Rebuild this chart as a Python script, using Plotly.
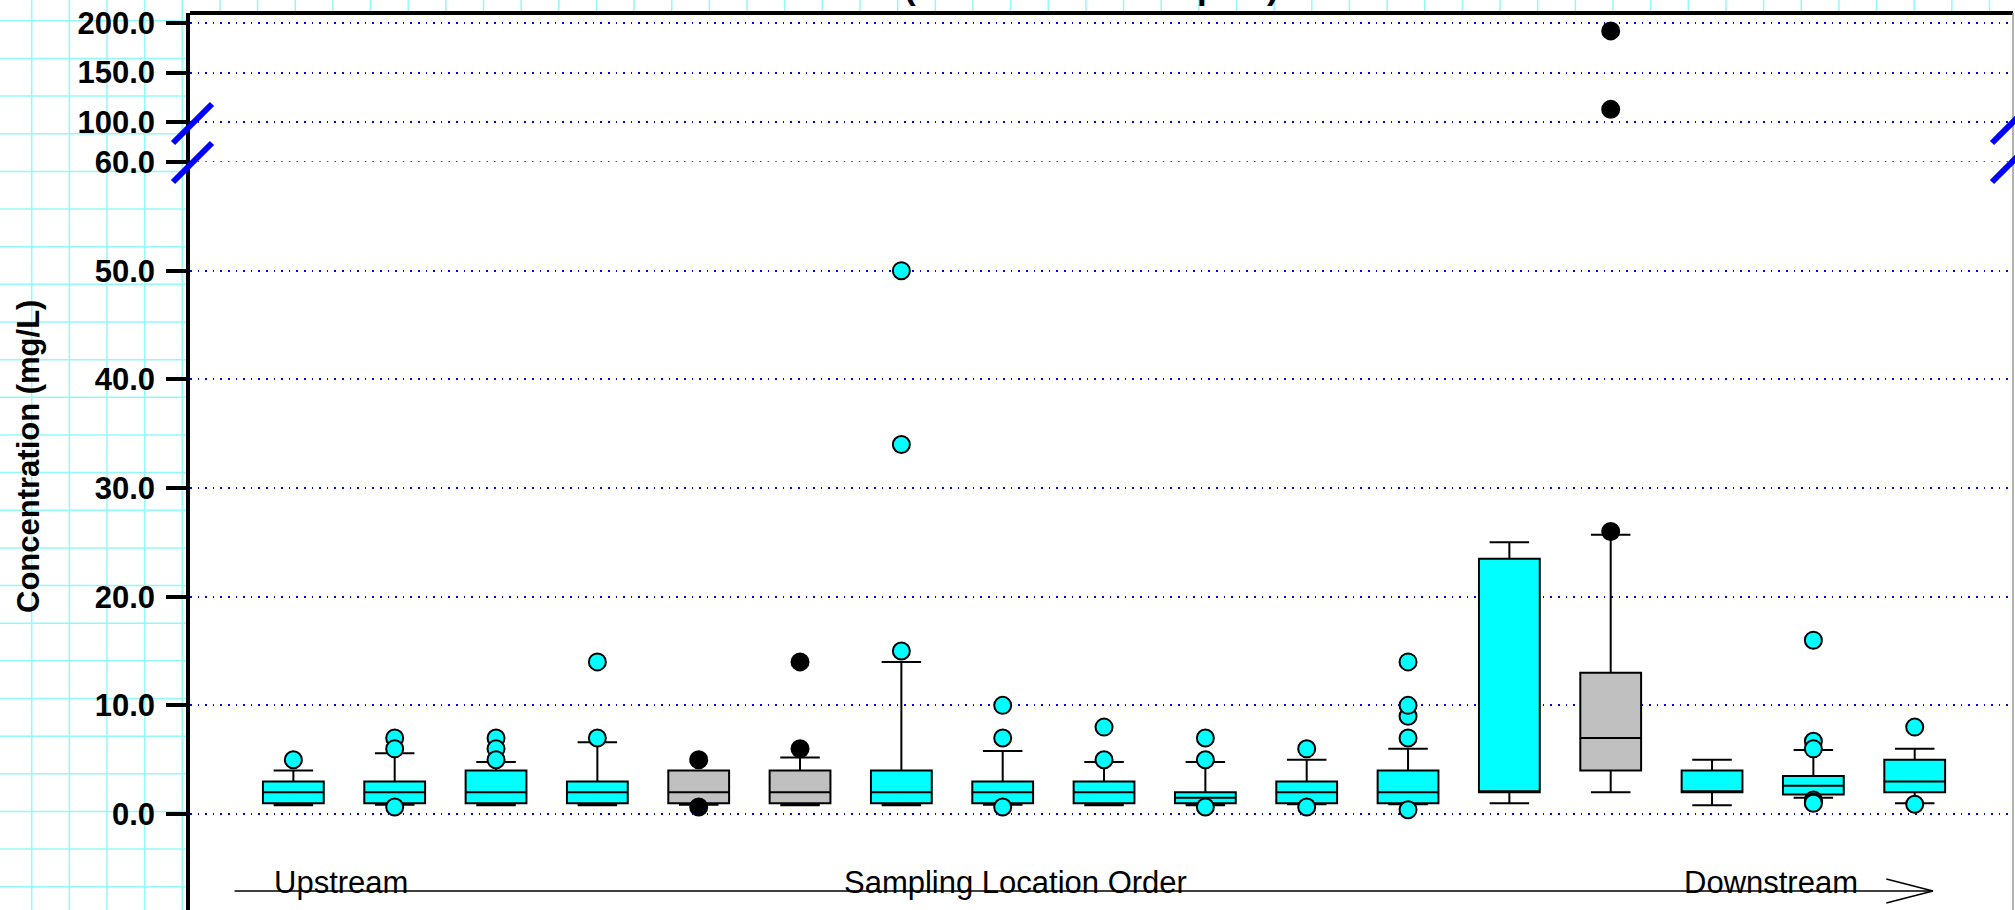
import plotly.graph_objects as go

# box statistics per sampling location, upstream -> downstream
sites = list(range(1, 18))
box_fill = ['cyan', 'cyan', 'cyan', 'cyan', 'gray', 'gray', 'cyan', 'cyan', 'cyan',
            'cyan', 'cyan', 'cyan', 'cyan', 'gray', 'cyan', 'cyan', 'cyan']
lower_whisker = [0.8, 0.85, 0.8, 0.8, 0.85, 0.8, 0.8, 0.85, 0.8, 0.8, 0.9, 0.9, 1.0, 2.0, 0.8, 1.5, 1.0]
q1 = [1, 1, 1, 1, 1, 1, 1, 1, 1, 1, 1, 1, 2, 4, 2, 1.8, 2]
median = [2, 2, 2, 2, 2, 2, 2, 2, 2, 1.5, 2, 2, 2, 7, 2, 2.6, 3]
q3 = [3, 3, 4, 3, 4, 4, 4, 3, 3, 2, 3, 4, 23.5, 13, 4, 3.5, 5]
upper_whisker = [4, 5.6, 4.8, 6.6, 4, 5.2, 14, 5.8, 4.8, 4.8, 5, 6, 25, 25.7, 5, 5.9, 6]
outliers = [[5], [7, 6, 0.65], [7, 6, 5], [7, 14], [5, 0.65], [6, 14], [15, 34, 50],
            [7, 10, 0.65], [5, 8], [5, 7, 0.65], [6, 0.65], [7, 9, 10, 14, 0.4], [],
            [26, 113, 192], [], [6.7, 6, 16, 1.3, 1.1, 1.0], [8, 0.9]]

lower_ticks = [0, 10, 20, 30, 40, 50]
upper_ticks = [60, 100, 150, 200]
y_title = 'Concentration (mg/L)'
title_text = '(Wet Season Samples)'

W, H = 2015, 910
ML, MR, MT, MB = 190, 2, 13, 0
PW, PH = W - ML - MR, H - MT - MB


def px_x(px):
    return (px - ML) / PW


def px_y(py):
    return (H - MB - py) / PH


split = px_y(162)
FONT = 'Liberation Sans, Arial, sans-serif'
CYAN = '#00FFFF'
GRAY = '#C0C0C0'
GRID_DASH = '1.6px,6px'

fig = go.Figure()

for fill, col in [('cyan', CYAN), ('gray', GRAY)]:
    idx = [i for i, f in enumerate(box_fill) if f == fill]
    fig.add_trace(go.Box(
        x=[sites[i] for i in idx],
        q1=[q1[i] for i in idx],
        median=[median[i] for i in idx],
        q3=[q3[i] for i in idx],
        lowerfence=[lower_whisker[i] for i in idx],
        upperfence=[upper_whisker[i] for i in idx],
        fillcolor=col, line=dict(color='black', width=2),
        width=0.6, whiskerwidth=0.65, boxpoints=False,
        showlegend=False, yaxis='y'))

# outliers: cyan boxes -> cyan dots, gray boxes -> black dots
for fill, col in [('cyan', CYAN), ('gray', 'black')]:
    for upper in (False, True):
        xs, ys = [], []
        for i, f in enumerate(box_fill):
            if f != fill:
                continue
            for v in outliers[i]:
                if (v > 60) == upper:
                    xs.append(sites[i])
                    ys.append(v)
        if not xs:
            continue
        fig.add_trace(go.Scatter(
            x=xs, y=ys, mode='markers', yaxis='y2' if upper else 'y',
            marker=dict(size=17, color=col, line=dict(color='black', width=2)),
            showlegend=False, cliponaxis=False))

shapes = []
# graph-paper background in the margins
paper_col = '#94F8F8'
step = 37.65
gx = 31.7
while gx < W:
    y_end = H if gx < ML - 2 else MT
    shapes.append(dict(type='line', xref='paper', yref='paper', layer='below',
                       x0=px_x(gx), x1=px_x(gx), y0=px_y(0), y1=px_y(y_end),
                       line=dict(color=paper_col, width=1.5)))
    gx += step
gy = 20.8
while gy < H:
    shapes.append(dict(type='line', xref='paper', yref='paper', layer='below',
                       x0=px_x(0), x1=px_x(ML - 2), y0=px_y(gy), y1=px_y(gy),
                       line=dict(color=paper_col, width=1.5)))
    gy += step

# gridline at the break value (bottom edge of the upper panel)
shapes.append(dict(type='line', xref='paper', yref='y2', layer='below', x0=0, x1=1,
                   y0=upper_ticks[0], y1=upper_ticks[0],
                   line=dict(color='#0000FF', width=1.6, dash=GRID_DASH)))

# frame
shapes.append(dict(type='line', xref='paper', yref='paper', x0=0, x1=1, y0=1, y1=1,
                   line=dict(color='black', width=4)))
shapes.append(dict(type='line', xref='paper', yref='paper', x0=1, x1=1, y0=0, y1=1,
                   line=dict(color='#999999', width=1.5)))

# axis break marks
for bx in (ML - 17, W - MR - 21):
    for by in (143, 182):
        shapes.append(dict(type='line', xref='paper', yref='paper',
                           x0=px_x(bx), x1=px_x(bx + 39), y0=px_y(by), y1=px_y(by - 39),
                           line=dict(color='#0000FF', width=6)))

# flow direction arrow
arrow_y = -7.08
shapes.append(dict(type='line', xref='x', yref='y', x0=0.42, x1=17.18, y0=arrow_y, y1=arrow_y,
                   line=dict(color='#404040', width=2)))
shapes.append(dict(type='path', xref='x', yref='y',
                   path=f'M 16.72 {arrow_y + 1.1} L 17.18 {arrow_y} L 16.72 {arrow_y - 1.1}',
                   line=dict(color='black', width=1.5)))

annotations = [
    dict(text=f'<b>{y_title}</b>', xref='paper', yref='paper', x=px_x(28), y=px_y(457),
         textangle=-90, showarrow=False, xanchor='center', yanchor='middle',
         font=dict(family=FONT, size=31, color='black')),
    dict(text=f'<b>{title_text}</b>', xref='paper', yref='paper', x=px_x(1091), y=px_y(-13.6),
         showarrow=False, xanchor='center', yanchor='middle',
         font=dict(family=FONT, size=35, color='black')),
]
for label, lx in [('Upstream', 1.467), ('Sampling Location Order', 8.13), ('Downstream', 15.58)]:
    annotations.append(dict(text=label, xref='x', yref='y', x=lx, y=-6.26, showarrow=False,
                            xanchor='center', yanchor='middle',
                            font=dict(family=FONT, size=31, color='black')))

yaxis_common = dict(
    showline=True, linecolor='black', linewidth=3.5,
    ticks='outside', ticklen=20, tickwidth=3.5, tickcolor='black',
    tickformat='.1f', ticklabelstandoff=5,
    tickfont=dict(family=FONT, size=31, color='black', weight='bold'),
    showgrid=True, gridcolor='#0000FF', gridwidth=1.6, griddash=GRID_DASH,
    zeroline=False, anchor='x', fixedrange=True, automargin=False,
)

fig.update_layout(
    template='none',
    width=W, height=H, autosize=False,
    margin=dict(l=ML, r=MR, t=MT, b=MB, pad=0, autoexpand=False),
    paper_bgcolor='white', plot_bgcolor='white',
    xaxis=dict(range=[-0.02, 17.97], visible=False, fixedrange=True, automargin=False),
    yaxis=dict(domain=[0, split], range=[-8.83, 60], tickvals=lower_ticks, **yaxis_common),
    yaxis2=dict(domain=[split, 1], range=[60, 210], tickvals=upper_ticks, **yaxis_common),
    shapes=shapes, annotations=annotations,
    showlegend=False,
)

# the page's default body margin would shift the figure by 8px
fig.write_html('out.html', config={'displayModeBar': False},
               post_script="document.body.style.margin='0px';document.body.style.overflow='hidden';")
